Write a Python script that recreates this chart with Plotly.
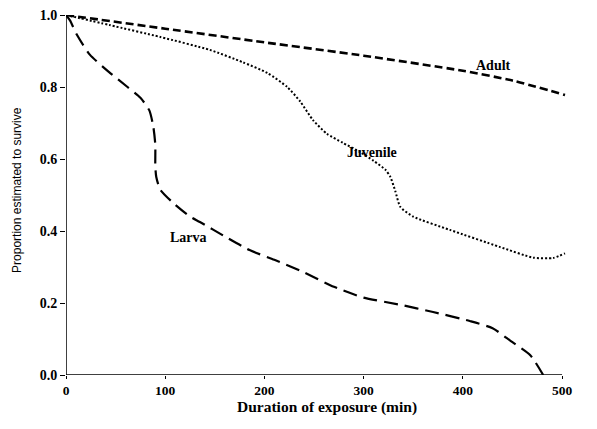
import plotly.graph_objects as go

# ---- data ----
adult_x = [0, 100, 200, 300, 400, 450, 503]
adult_y = [1.0, 0.962, 0.924, 0.887, 0.845, 0.818, 0.778]

juvenile_x = [0, 44, 95, 145, 178, 203, 223, 236, 249, 263, 279, 296, 310, 322, 327, 332, 337, 350, 387, 437, 471, 491, 503]
juvenile_y = [1.0, 0.972, 0.939, 0.903, 0.869, 0.839, 0.80, 0.76, 0.708, 0.67, 0.645, 0.62, 0.595, 0.57, 0.55, 0.51, 0.467, 0.44, 0.403, 0.356, 0.326, 0.325, 0.338]

larva_x = [0, 4, 11, 24, 44, 62, 75, 84, 88, 90, 90, 91, 95, 108, 125, 135, 160, 185, 210, 236, 270, 300, 337, 370, 407, 430, 448, 468, 481]
larva_y = [1.0, 0.985, 0.945, 0.89, 0.84, 0.80, 0.77, 0.735, 0.69, 0.64, 0.58, 0.55, 0.515, 0.478, 0.44, 0.425, 0.385, 0.347, 0.32, 0.29, 0.245, 0.215, 0.195, 0.175, 0.15, 0.13, 0.095, 0.055, 0.0]

x_ticks = [0, 100, 200, 300, 400, 500]
y_ticks = [0.0, 0.2, 0.4, 0.6, 0.8, 1.0]
y_tick_text = ["0.0", "0.2", "0.4", "0.6", "0.8", "1.0"]

labels = [("Adult", 431, 0.861), ("Juvenile", 308, 0.619), ("Larva", 123, 0.383)]

x_title = "Duration of exposure (min)"
y_title = "Proportion estimated to survive"

SERIF = "Liberation Serif"
SANS = "Liberation Sans"

fig = go.Figure()
fig.add_trace(go.Scatter(x=adult_x, y=adult_y, mode="lines",
                         line=dict(color="black", width=2.6, dash="8px,4px", shape="spline", smoothing=0.6)))
fig.add_trace(go.Scatter(x=juvenile_x, y=juvenile_y, mode="lines",
                         line=dict(color="black", width=2, dash="2px,2px", shape="spline", smoothing=0.6)))
fig.add_trace(go.Scatter(x=larva_x, y=larva_y, mode="lines",
                         line=dict(color="black", width=2.2, dash="14px,7px", shape="spline", smoothing=0.6)))

for text, lx, ly in labels:
    fig.add_annotation(x=lx, y=ly, text=text, showarrow=False,
                       font=dict(family=SERIF, size=14, color="black", weight="bold"))

# axis titles
fig.add_annotation(xref="paper", yref="paper", x=0.52, y=-0.088, text=x_title, showarrow=False,
                   xanchor="center", yanchor="middle",
                   font=dict(family=SERIF, size=15.5, color="black", weight="bold"))
fig.add_annotation(xref="paper", yref="paper", x=-0.0976, y=0.514, text=y_title, showarrow=False,
                   textangle=-90, xanchor="center", yanchor="middle",
                   font=dict(family=SANS, size=12, color="black"))

# axis lines drawn only over 0..500 / 0..1
fig.add_shape(type="line", xref="x", yref="y", x0=0, x1=500, y0=0, y1=0,
              line=dict(color="black", width=1.5))
fig.add_shape(type="line", xref="x", yref="y", x0=0, x1=0, y0=0, y1=1,
              line=dict(color="black", width=1.5))

fig.update_layout(
    width=581, height=413,
    margin=dict(l=58, r=21, t=7, b=46),
    paper_bgcolor="white", plot_bgcolor="white",
    showlegend=False,
    font=dict(family=SERIF, color="black"),
)
fig.update_xaxes(range=[0, 506], tickvals=x_ticks, ticks="outside", ticklen=3, tickwidth=1.2,
                 tickcolor="black", showgrid=False, zeroline=False, showline=False, automargin=False,
                 ticklabeloverflow="allow",
                 tickfont=dict(family=SERIF, size=13.5, color="black", weight="bold"))
fig.update_yaxes(range=[0, 1.0], tickvals=y_ticks, ticktext=y_tick_text, ticks="outside", ticklen=5, tickwidth=1.2,
                 tickcolor="black", showgrid=False, zeroline=False, showline=False, automargin=False,
                 ticklabeloverflow="allow",
                 tickfont=dict(family=SERIF, size=14, color="black", weight="bold"))

fig.write_html("out.html")
